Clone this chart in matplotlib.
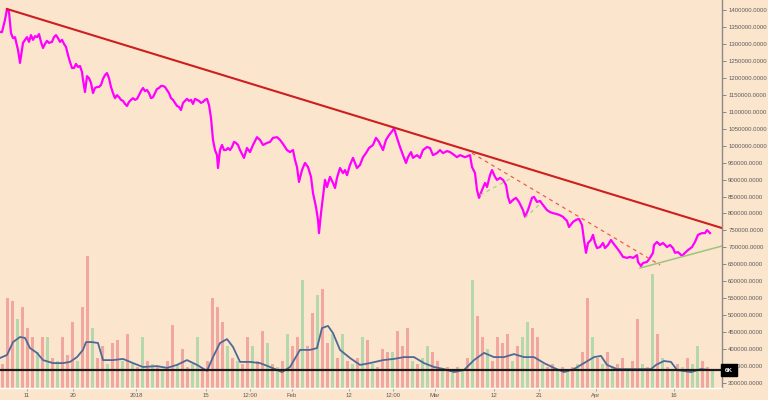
import matplotlib
matplotlib.use("Agg")
import matplotlib.pyplot as plt
import numpy as np

plt.rcParams['font.family'] = ['Liberation Sans', 'DejaVu Sans']

# price in thousands, x = bar index
price_x = [0, 2, 5, 7, 9, 11, 13, 15, 18, 20, 23, 25, 27, 29, 31, 33, 35, 37, 39, 41, 43, 45, 47, 49,
           52, 54, 56, 58, 60, 62, 64, 66, 68, 70, 72, 74, 76, 78, 80, 82, 83, 85, 87, 89, 91, 93, 95,
           97, 99, 101, 103, 105, 107, 109, 111, 113, 115, 117, 119, 121, 123, 125, 127, 129, 131, 133,
           135, 137, 139, 141, 143, 145, 147, 149, 151, 153, 155, 157, 159, 161, 163, 165, 167, 169, 171,
           173, 175, 177, 179, 181, 183, 185, 187, 189, 191, 193, 195, 197, 199, 201, 203, 205, 207, 209,
           211, 213, 215, 217, 218, 220, 222, 224, 226, 228, 230, 232, 234, 236, 238,
           240, 244, 247, 250, 253, 257, 260, 263, 267, 270, 273, 277, 280, 283, 287, 290, 293, 295, 297,
           299, 302, 305, 308, 311, 313, 316, 318, 319, 321, 323, 325, 327, 330, 333, 335, 337, 340, 343,
           345, 347, 350, 353, 355, 357, 360, 363, 366, 369, 373, 376, 379, 383, 386, 389, 393, 394, 397,
           400, 403, 406, 408, 411, 413, 417, 420, 423, 427, 430, 433, 437, 440, 443, 447, 450, 453, 457,
           460, 465, 470, 472, 475, 477, 479, 482, 485, 487, 490, 492, 495, 497, 500, 503, 506, 508, 510,
           513, 516, 519, 523, 525, 528, 532, 534, 537, 540, 543, 547, 550, 553, 557, 560, 563, 567, 569,
           573, 576, 579, 582, 584, 586, 588, 591, 593, 595, 597, 600, 603, 605, 608, 611, 613, 617, 620,
           623, 627, 630, 633, 637, 638, 641, 643, 647, 650, 653, 654, 657, 660, 663, 667, 670, 673, 675,
           678, 682, 685, 688, 692, 695, 698, 702, 705, 707, 710]
price_k = [1335, 1335, 1371, 1403, 1394, 1332, 1317, 1320, 1282, 1244, 1303, 1312, 1320, 1306, 1326, 1312,
           1323, 1320, 1329, 1306, 1288, 1300, 1309, 1303, 1306, 1320, 1326, 1317, 1306, 1312, 1300, 1291,
           1267, 1247, 1229, 1229, 1241, 1232, 1235, 1217, 1194, 1158, 1205, 1199, 1185, 1155, 1170, 1173,
           1173, 1179, 1197, 1208, 1214, 1199, 1173, 1155, 1140, 1149, 1143, 1135, 1132, 1123, 1117, 1129,
           1135, 1140, 1135, 1138, 1149, 1161, 1170, 1161, 1164, 1155, 1140, 1143, 1155, 1167, 1170, 1176,
           1176, 1173, 1164, 1155, 1140, 1135, 1126, 1117, 1114, 1105, 1126, 1132, 1138, 1132, 1135, 1123,
           1138, 1135, 1132, 1126, 1129, 1135, 1138, 1120, 1082, 1017, 987, 972, 934, 987, 1002, 987, 987,
           993, 987, 996, 1011, 1008, 1002,
           987, 964, 993, 981, 1002, 1025, 1017, 1002, 1008, 1011, 1023, 1025, 1017, 1005, 987, 981, 987,
           958, 937, 893, 928, 949, 937, 908, 860, 819, 781, 742, 801, 849, 899, 878, 908, 890, 875, 905,
           934, 919, 928, 913, 943, 964, 949, 934, 943, 966, 978, 993, 1002, 1023, 1011, 987, 1017, 1031,
           1046, 1052, 1023, 996, 972, 949, 966, 981, 964, 972, 964, 987, 996, 993, 972, 978, 987, 978, 984,
           981, 975, 966, 972, 966, 972, 937, 919, 869, 846, 869, 890, 878, 913, 928, 908, 899, 905, 899,
           884, 849, 831, 840, 846, 834, 810, 790, 810, 846, 849, 834, 837, 825, 810, 804, 801, 798, 795,
           790, 778, 760, 775, 781, 784, 766, 722, 684, 713, 722, 737, 713, 698, 701, 713, 698, 707, 722,
           713, 698, 686, 672, 669, 672, 669, 677, 657, 645, 654, 657, 669, 684, 707, 716, 707, 713, 701,
           707, 698, 684, 686, 675, 684, 692, 701, 716, 737, 742, 742, 751, 742]

# volume (K) in bins of 5 bars, colour r = down, g = up
vol_k = [8, 30, 29, 23, 27, 20, 17, 12, 17, 17, 10, 9, 17, 11, 22, 9, 27, 44, 20, 10,
         14, 8, 15, 16, 9, 18, 8, 7, 17, 9, 8, 7, 6, 9, 21, 8, 13, 7, 8, 17,
         6, 9, 30, 27, 22, 14, 10, 9, 8, 17, 14, 9, 19, 15, 8, 7, 9, 18, 14, 17,
         36, 14, 25, 31, 33, 15, 18, 10, 18, 9, 8, 10, 17, 16, 8, 7, 13, 12, 12, 19,
         14, 20, 9, 8, 10, 14, 12, 9, 6, 7, 5, 7, 6, 10, 36, 24, 17, 13, 9, 17,
         15, 18, 9, 14, 17, 22, 20, 17, 8, 7, 8, 6, 7, 6, 7, 8, 12, 30, 17, 10,
         8, 12, 7, 8, 10, 6, 9, 23, 8, 7, 38, 18, 10, 7, 6, 8, 7, 10, 8, 14,
         9, 7, 6]
vol_dir = ("rrrgrrrgrgrgrrrgrrgr" "rgrrgrgrgrgrgrrgrrgg"
           "rrrrrgrgrrgrrgrgrgrr" "grrgrrgrgrgrgrgrrrgr"
           "rrgrggrrgrgrgrgrrgrr" "rrgrggrrgrrgrgrgrrgr"
           "grgrrgrrgrgrgrgrgrgg" "rrg")

# volume moving average (K)
ma_x = [0, 7, 13, 20, 25, 30, 37, 43, 53, 63, 70, 77, 83, 86, 92, 98, 103, 113, 123, 133, 143, 157,
        167, 177, 187, 197, 207, 213, 220, 227, 233, 240, 250, 260, 270, 282, 290, 300, 310, 317, 322,
        328, 333, 340, 350, 360, 370, 383, 394, 404, 414, 424, 434, 444, 454, 464, 474, 484, 494, 504,
        514, 524, 534, 544, 554, 564, 574, 584, 594, 601, 607, 617, 631, 641, 651, 656, 664, 671, 677,
        691, 701, 709]
ma_k = [10, 11, 15.3, 17, 16.7, 13.3, 11.7, 9.3, 8.3, 8.3, 8.7, 10.3, 12.7, 15.3, 15.3, 15, 9.3, 9.3,
        9.7, 8.3, 7, 7.3, 6.7, 7.7, 9.3, 7.7, 5.7, 10.3, 15, 16.3, 13.7, 8.7, 8.7, 8.3, 7, 5.3, 7, 12.7,
        12.7, 13.3, 20, 20.7, 18.3, 12.7, 10, 7.7, 8.3, 9.3, 9.7, 10.3, 10.3, 8.3, 7, 6.3, 5.3, 6, 9.3,
        11.7, 10.3, 10.3, 11.3, 10.3, 10.3, 8.3, 6.7, 5.3, 6.3, 8.3, 10.3, 10.7, 7.7, 6.3, 6.3, 6.3, 6.3,
        7.7, 9, 8.7, 6, 5.3, 6.3, 6]

# drawn trend lines: (x0, price0, x1, price1) in thousands
main_trend = (7, 1403, 722, 757)
dash_trend = (472, 978, 660, 648)
support = (640, 639, 722, 704)
small_supports = [(480, 854, 510, 902), (525, 787, 540, 828)]

tick_pos = [27, 73, 136, 206, 250, 292, 349, 393, 435, 494, 539, 596, 674]
tick_lab = ["11", "20", "2018", "15", "12:00", "Feb", "12", "12:00", "Mar", "12", "21", "Apr", "16"]

bg = "#fce5cd"
fig = plt.figure(figsize=(7.68, 4.0), dpi=100, facecolor=bg)
ax = fig.add_axes([0, 12 / 400, 722 / 768, 388 / 400])
ax.set_facecolor(bg)
axv = ax.twinx()
ax.set_zorder(axv.get_zorder() + 1)
ax.patch.set_visible(False)
axv.patch.set_facecolor(bg)
axv.patch.set_visible(True)

# volume
vx = np.arange(len(vol_k)) * 5 + 2.5
cols = ["#f19f9b" if c == "r" else "#acd6a8" for c in vol_dir]
axv.bar(vx, vol_k, width=3.6, color=cols, alpha=0.9, linewidth=0)
axv.plot(ma_x, ma_k, color="#4d6a97", lw=1.3)
axv.axhline(6, color="#1a1a1a", lw=1.6)
axv.set_ylim(0, 388 / 3)
axv.set_yticks([])
for s in axv.spines.values():
    s.set_visible(False)

# price
p = np.array(price_k) * 1000
ax.plot(price_x, p, color="#ff00ff", lw=1.6)
x0, a, x1, b = main_trend
ax.plot([x0, x1], [a * 1000, b * 1000], color="#cc1f1f", lw=1.5)
x0, a, x1, b = dash_trend
ax.plot([x0, x1], [a * 1000, b * 1000], color="#e8604a", lw=0.9, ls=(0, (3, 3)))
x0, a, x1, b = support
ax.plot([x0, x1], [a * 1000, b * 1000], color="#9fc27f", lw=1.1)
for x0, a, x1, b in small_supports:
    ax.plot([x0, x1], [a * 1000, b * 1000], color="#a9cf8f", lw=0.9, ls=(0, (3, 3)))

ax.set_xlim(0, 722)
axv.set_xlim(0, 722)
ax.set_ylim(285300, 1429500)
ax.yaxis.tick_right()
ax.set_yticks(np.arange(300000, 1400001, 50000))
ax.set_yticklabels(["%d.0000" % v for v in np.arange(300000, 1400001, 50000)])
ax.tick_params(axis="y", colors="#777777", labelcolor="#5a5a5a", labelsize=4.3, length=3, width=0.6, pad=1.5)
ax.set_xticks(tick_pos)
ax.set_xticklabels(tick_lab)
ax.tick_params(axis="x", colors="#999999", labelcolor="#5a5a5a", labelsize=4.3, length=2, width=0.6, pad=1.5)
for k in ["top", "left"]:
    ax.spines[k].set_visible(False)
ax.spines["right"].set_color("#8a8a8a")
ax.spines["right"].set_linewidth(1.0)
ax.spines["bottom"].set_color("white")
ax.spines["bottom"].set_linewidth(1.0)

fig.text(729 / 768, 1 - 370 / 400, "6K", color="white", fontsize=4.5, fontweight="bold",
         ha="center", va="center", zorder=10,
         bbox=dict(boxstyle="square,pad=0.6", fc="black", ec="black"))

fig.savefig("out.png", dpi=100, facecolor=bg)
